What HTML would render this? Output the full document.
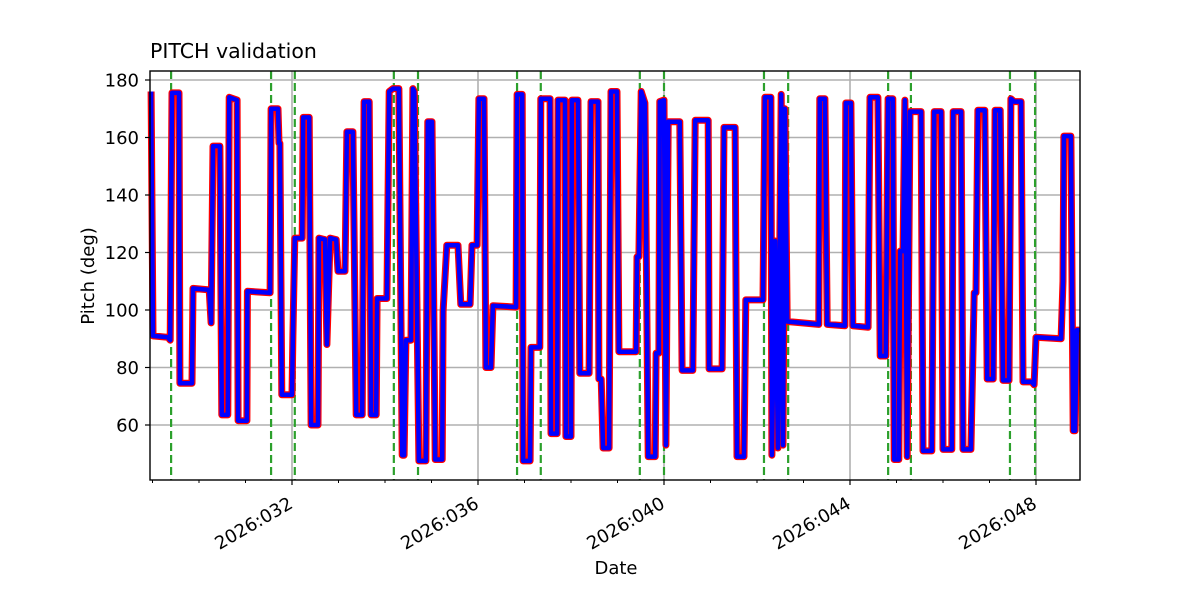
<!DOCTYPE html>
<html><head><meta charset="utf-8"><style>body{margin:0;background:#fff}svg{display:block;font-family:"DejaVu Sans","Liberation Sans",sans-serif}</style></head>
<body>
<svg id="chart" width="1200" height="600" viewBox="0 0 1200 600">
<rect width="1200" height="600" fill="#fff"/>
<text x="150" y="58" font-size="20.5" fill="#000">PITCH validation</text>
<text x="0" y="0" font-size="18" text-anchor="middle" transform="translate(94,276) rotate(-90)">Pitch (deg)</text>
<text x="616" y="574" font-size="18" text-anchor="middle">Date</text>
<g id="grid"></g><g id="events"></g><g id="series"></g><g id="axes"></g>
</svg>
<script>
const times=[28.97,29.01,29.33,29.38,29.42,29.57,29.59,29.85,29.87,30.22,30.26,30.30,30.45,30.49,30.62,30.65,30.82,30.84,31.03,31.04,31.53,31.55,31.70,31.72,31.74,31.78,32.00,32.02,32.06,32.22,32.24,32.37,32.41,32.56,32.58,32.71,32.75,32.82,32.95,32.99,33.14,33.18,33.31,33.38,33.51,33.55,33.66,33.70,33.81,33.83,34.04,34.09,34.17,34.30,34.37,34.41,34.45,34.56,34.60,34.63,34.73,34.88,34.92,35.01,35.08,35.23,35.25,35.33,35.57,35.63,35.83,35.87,35.98,36.02,36.13,36.17,36.28,36.32,36.82,36.84,36.95,36.97,37.12,37.14,37.33,37.35,37.55,37.57,37.70,37.72,37.87,37.89,38.00,38.02,38.15,38.19,38.39,38.43,38.58,38.60,38.65,38.69,38.82,38.86,38.99,39.03,39.40,39.42,39.46,39.51,39.59,39.66,39.81,39.83,39.89,39.91,40.00,40.04,40.09,40.34,40.39,40.62,40.67,40.95,40.97,41.25,41.29,41.53,41.57,41.72,41.76,42.13,42.17,42.30,42.32,42.39,42.45,42.52,42.56,42.60,42.65,43.33,43.35,43.46,43.51,43.89,43.91,44.02,44.06,44.39,44.43,44.60,44.65,44.77,44.82,44.92,44.95,45.05,45.08,45.14,45.18,45.23,45.29,45.53,45.57,45.76,45.81,45.96,46.00,46.19,46.22,46.39,46.43,46.60,46.67,46.71,46.75,46.90,46.95,47.08,47.12,47.23,47.29,47.42,47.46,47.53,47.68,47.72,47.91,47.96,48.00,48.54,48.58,48.60,48.75,48.80,48.84,48.88,48.95];
const pitch=[176,91,90.5,89.5,175.5,175.5,74.5,74.5,107.5,107,95.5,157,157,63.5,63.5,174,173,61.5,61.5,106.5,106,170,170,158,158,70.5,70.5,91,125,125,167,167,60,60,125,124.5,88,125,124.5,113.5,113.5,162,162,63.5,63.5,172.5,172.5,63.5,63.5,104,104,176,177,177,49.5,49.5,89.5,89.5,177,176,47.5,47.5,165.5,165.5,48,48,99.5,122.5,122.5,102,102,122.5,122.5,173.5,173.5,80,80,101.5,101,175,175,47.5,47.5,87,87,173.5,173.5,57,57,173,173,56,56,173,173,78,78,172.5,172.5,76,76,52,52,176,176,85.5,85.5,118.5,118.5,176,172,49,49,85,85,172.5,173,53,165.5,165.5,79,79,166,166,79.5,79.5,163.5,163.5,49,49,103.5,103.5,174,174,49.5,124,52,175,53,170,96,95,173.5,173.5,95,94.5,172,172,94.5,94,174,174,84,84,173.5,173.5,48,48,120.5,120.5,173,49,169,169,51,51,169,169,51.5,51.5,169,169,51.5,51.5,106,106,169.5,169.5,76,76,169.5,169.5,75.5,75.5,173.5,172.5,172.5,75,75,74,90.5,90,110,160.5,160.5,58,58,93,93];
const eventDays=[29.40,31.55,32.06,34.19,34.71,36.84,37.35,39.48,40.00,42.15,42.67,44.82,45.31,47.44,47.98];
const yTicks=[60,80,100,120,140,160,180];
const xMajorDays=[32,36,40,44,48];
const xMajorLabels=["2026:032","2026:036","2026:040","2026:044","2026:048"];
const xMinorDays=[29,30,31,33,34,35,37,38,39,41,42,43,45,46,47];

const L=150,R=1080,T=71,B=480;
const xs=d=>292+(d-32)*46.5;
const ys=v=>80+(180-v)*2.875;
const NS="http://www.w3.org/2000/svg";
function mk(tag,parent,attrs){const e=document.createElementNS(NS,tag);for(const k in attrs)e.setAttribute(k,attrs[k]);document.getElementById(parent).appendChild(e);return e;}

yTicks.forEach(v=>{
  const g=mk('line','grid',{x1:L,x2:R,y1:ys(v),y2:ys(v),stroke:'#b0b0b0','stroke-width':1.6});
  
  
  const t=mk('line','axes',{x1:L-5,x2:L,y1:ys(v),y2:ys(v),stroke:'#000','stroke-width':1.2});
  
  
  const l=mk('text','axes',{x:L-11,y:ys(v)+6.5,'font-size':18,'text-anchor':'end'});
  l.textContent=v;
  
  
});
xMajorDays.forEach((d,i)=>{
  const x=xs(d);
  const g=mk('line','grid',{x1:x,x2:x,y1:T,y2:B,stroke:'#b0b0b0','stroke-width':1.6});
  
  
  const t=mk('line','axes',{x1:x,x2:x,y1:B,y2:B+5,stroke:'#000','stroke-width':1.2});
  
  
  const ax=x+2, ay=507;
  const l=mk('text','axes',{x:ax,y:ay,'font-size':18,'text-anchor':'end',transform:`rotate(-30 ${ax} ${ay})`});
  l.textContent=xMajorLabels[i];
  
  
});
xMinorDays.forEach(d=>{
  const x=xs(d);
  const t=mk('line','axes',{x1:x,x2:x,y1:B,y2:B+3,stroke:'#000','stroke-width':1});
  
  
});
eventDays.forEach(d=>{
  const x=xs(d);
  const e=mk('line','events',{x1:x,x2:x,y1:T,y2:B,stroke:'#2ca02c','stroke-width':2.2,'stroke-dasharray':'8,4'});
  
  
});
const pts=times.map((t,i)=>xs(t).toFixed(1)+','+ys(pitch[i]).toFixed(1)).join(' ');
const red=mk('polyline','series',{points:pts,fill:'none',stroke:'#ff0000','stroke-width':7,'stroke-linejoin':'round'});


const blue=mk('polyline','series',{points:pts,fill:'none',stroke:'#0000ff','stroke-width':4.5,'stroke-linejoin':'round'});


const fr=mk('rect','axes',{x:L,y:T,width:R-L,height:B-T,fill:'none',stroke:'#000','stroke-width':1.4});


</script>
</body></html>
